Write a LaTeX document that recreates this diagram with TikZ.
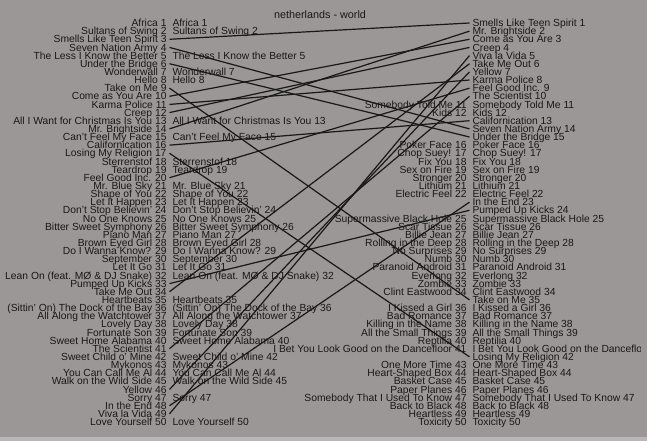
\documentclass[tikz,border=0pt]{standalone}
\usepackage{fontspec}
\setmainfont{Liberation Sans}
\usetikzlibrary{positioning}
\definecolor{paper}{RGB}{155,151,150}
\definecolor{strip}{RGB}{184,182,182}
\definecolor{ink}{RGB}{24,24,24}

\begin{document}
\begin{tikzpicture}[x=1bp,y=-1bp,
  every node/.style={inner xsep=2.8bp,inner ysep=0pt,text height=7.4bp,text depth=0pt,text=ink,
    font=\fontsize{10.3bp}{12bp}\selectfont},
  lsong/.style={anchor=east},
  rsong/.style={anchor=west},
  link/.style={draw=ink,line width=1.2bp}]
	% page
	\useasboundingbox (0,0) rectangle (647,441);
	\fill[paper] (0,0) rectangle (647,441);
	\fill[strip] (0,437) rectangle (647,441);
	\begin{scope}
	\clip (0,0) rectangle (640,437);
	\node (title) at (320,14.8) [font=\fontsize{10.8bp}{12bp}\selectfont] {netherlands - world};

	% netherlands (left), 1 = not in the world list
	\foreach \name/\dup [count=\i] in {
		Africa/1,
		Sultans of Swing/1,
		Smells Like Teen Spirit/0,
		Seven Nation Army/0,
		The Less I Know the Better/1,
		Under the Bridge/0,
		Wonderwall/1,
		Hello/1,
		Take on Me/0,
		Come as You Are/0,
		Karma Police/0,
		Creep/0,
		All I Want for Christmas Is You/1,
		Mr. Brightside/0,
		Can't Feel My Face/1,
		Californication/0,
		Losing My Religion/0,
		Sterrenstof/1,
		Teardrop/1,
		Feel Good Inc./0,
		Mr. Blue Sky/1,
		Shape of You/1,
		Let It Happen/1,
		Don't Stop Believin'/1,
		No One Knows/1,
		Bitter Sweet Symphony/1,
		Piano Man/1,
		Brown Eyed Girl/1,
		Do I Wanna Know?/1,
		September/1,
		Let It Go/1,
		Lean On (feat. MØ \& DJ Snake)/1,
		Pumped Up Kicks/0,
		Take Me Out/0,
		Heartbeats/1,
		{(Sittin' On) The Dock of the Bay}/1,
		All Along the Watchtower/1,
		Lovely Day/1,
		Fortunate Son/1,
		Sweet Home Alabama/1,
		The Scientist/0,
		Sweet Child o' Mine/1,
		Mykonos/1,
		You Can Call Me Al/1,
		Walk on the Wild Side/1,
		Yellow/0,
		Sorry/1,
		In the End/0,
		Viva la Vida/0,
		Love Yourself/1}
	{
		\node[lsong] (l\i) at (169.5,{23+(\i-1)*8.143}) {\name{} \i};
		\ifnum\dup=1 \node[right=0pt of l\i] (ld\i) {\name{} \i}; \fi
	}

	% world (right), 1 = not in the netherlands list
	\foreach \name/\dup [count=\i] in {
		Smells Like Teen Spirit/0,
		Mr. Brightside/0,
		Come as You Are/0,
		Creep/0,
		Viva la Vida/0,
		Take Me Out/0,
		Yellow/0,
		Karma Police/0,
		Feel Good Inc./0,
		The Scientist/0,
		Somebody Told Me/1,
		Kids/1,
		Californication/0,
		Seven Nation Army/0,
		Under the Bridge/0,
		Poker Face/1,
		Chop Suey!/1,
		Fix You/1,
		Sex on Fire/1,
		Stronger/1,
		Lithium/1,
		Electric Feel/1,
		In the End/0,
		Pumped Up Kicks/0,
		Supermassive Black Hole/1,
		Scar Tissue/1,
		Billie Jean/1,
		Rolling in the Deep/1,
		No Surprises/1,
		Numb/1,
		Paranoid Android/1,
		Everlong/1,
		Zombie/1,
		Clint Eastwood/1,
		Take on Me/0,
		I Kissed a Girl/1,
		Bad Romance/1,
		Killing in the Name/1,
		All the Small Things/1,
		Reptilia/1,
		I Bet You Look Good on the Dancefloor/1,
		Losing My Religion/0,
		One More Time/1,
		Heart-Shaped Box/1,
		Basket Case/1,
		Paper Planes/1,
		Somebody That I Used To Know/1,
		Back to Black/1,
		Heartless/1,
		Toxicity/1}
	{
		\node[rsong] (r\i) at (469.5,{23+(\i-1)*8.143}) {\name{} \i};
		\ifnum\dup=1 \node[left=0pt of r\i] (rd\i) {\name{} \i}; \fi
	}

	% songs in both lists
	\draw[link] (l3.east) -- (r1.west);
	\draw[link] (l4.east) -- (r14.west);
	\draw[link] (l6.east) -- (r15.west);
	\draw[link] (l9.east) -- (r35.west);
	\draw[link] (l10.east) -- (r3.west);
	\draw[link] (l11.east) -- (r8.west);
	\draw[link] (l12.east) -- (r4.west);
	\draw[link] (l14.east) -- (r2.west);
	\draw[link] (l16.east) -- (r13.west);
	\draw[link] (l17.east) -- (r42.west);
	\draw[link] (l20.east) -- (r9.west);
	\draw[link] (l33.east) -- (r24.west);
	\draw[link] (l34.east) -- (r6.west);
	\draw[link] (l41.east) -- (r10.west);
	\draw[link] (l46.east) -- (r7.west);
	\draw[link] (l48.east) -- (r23.west);
	\draw[link] (l49.east) -- (r5.west);
	\end{scope}
\end{tikzpicture}
\end{document}
